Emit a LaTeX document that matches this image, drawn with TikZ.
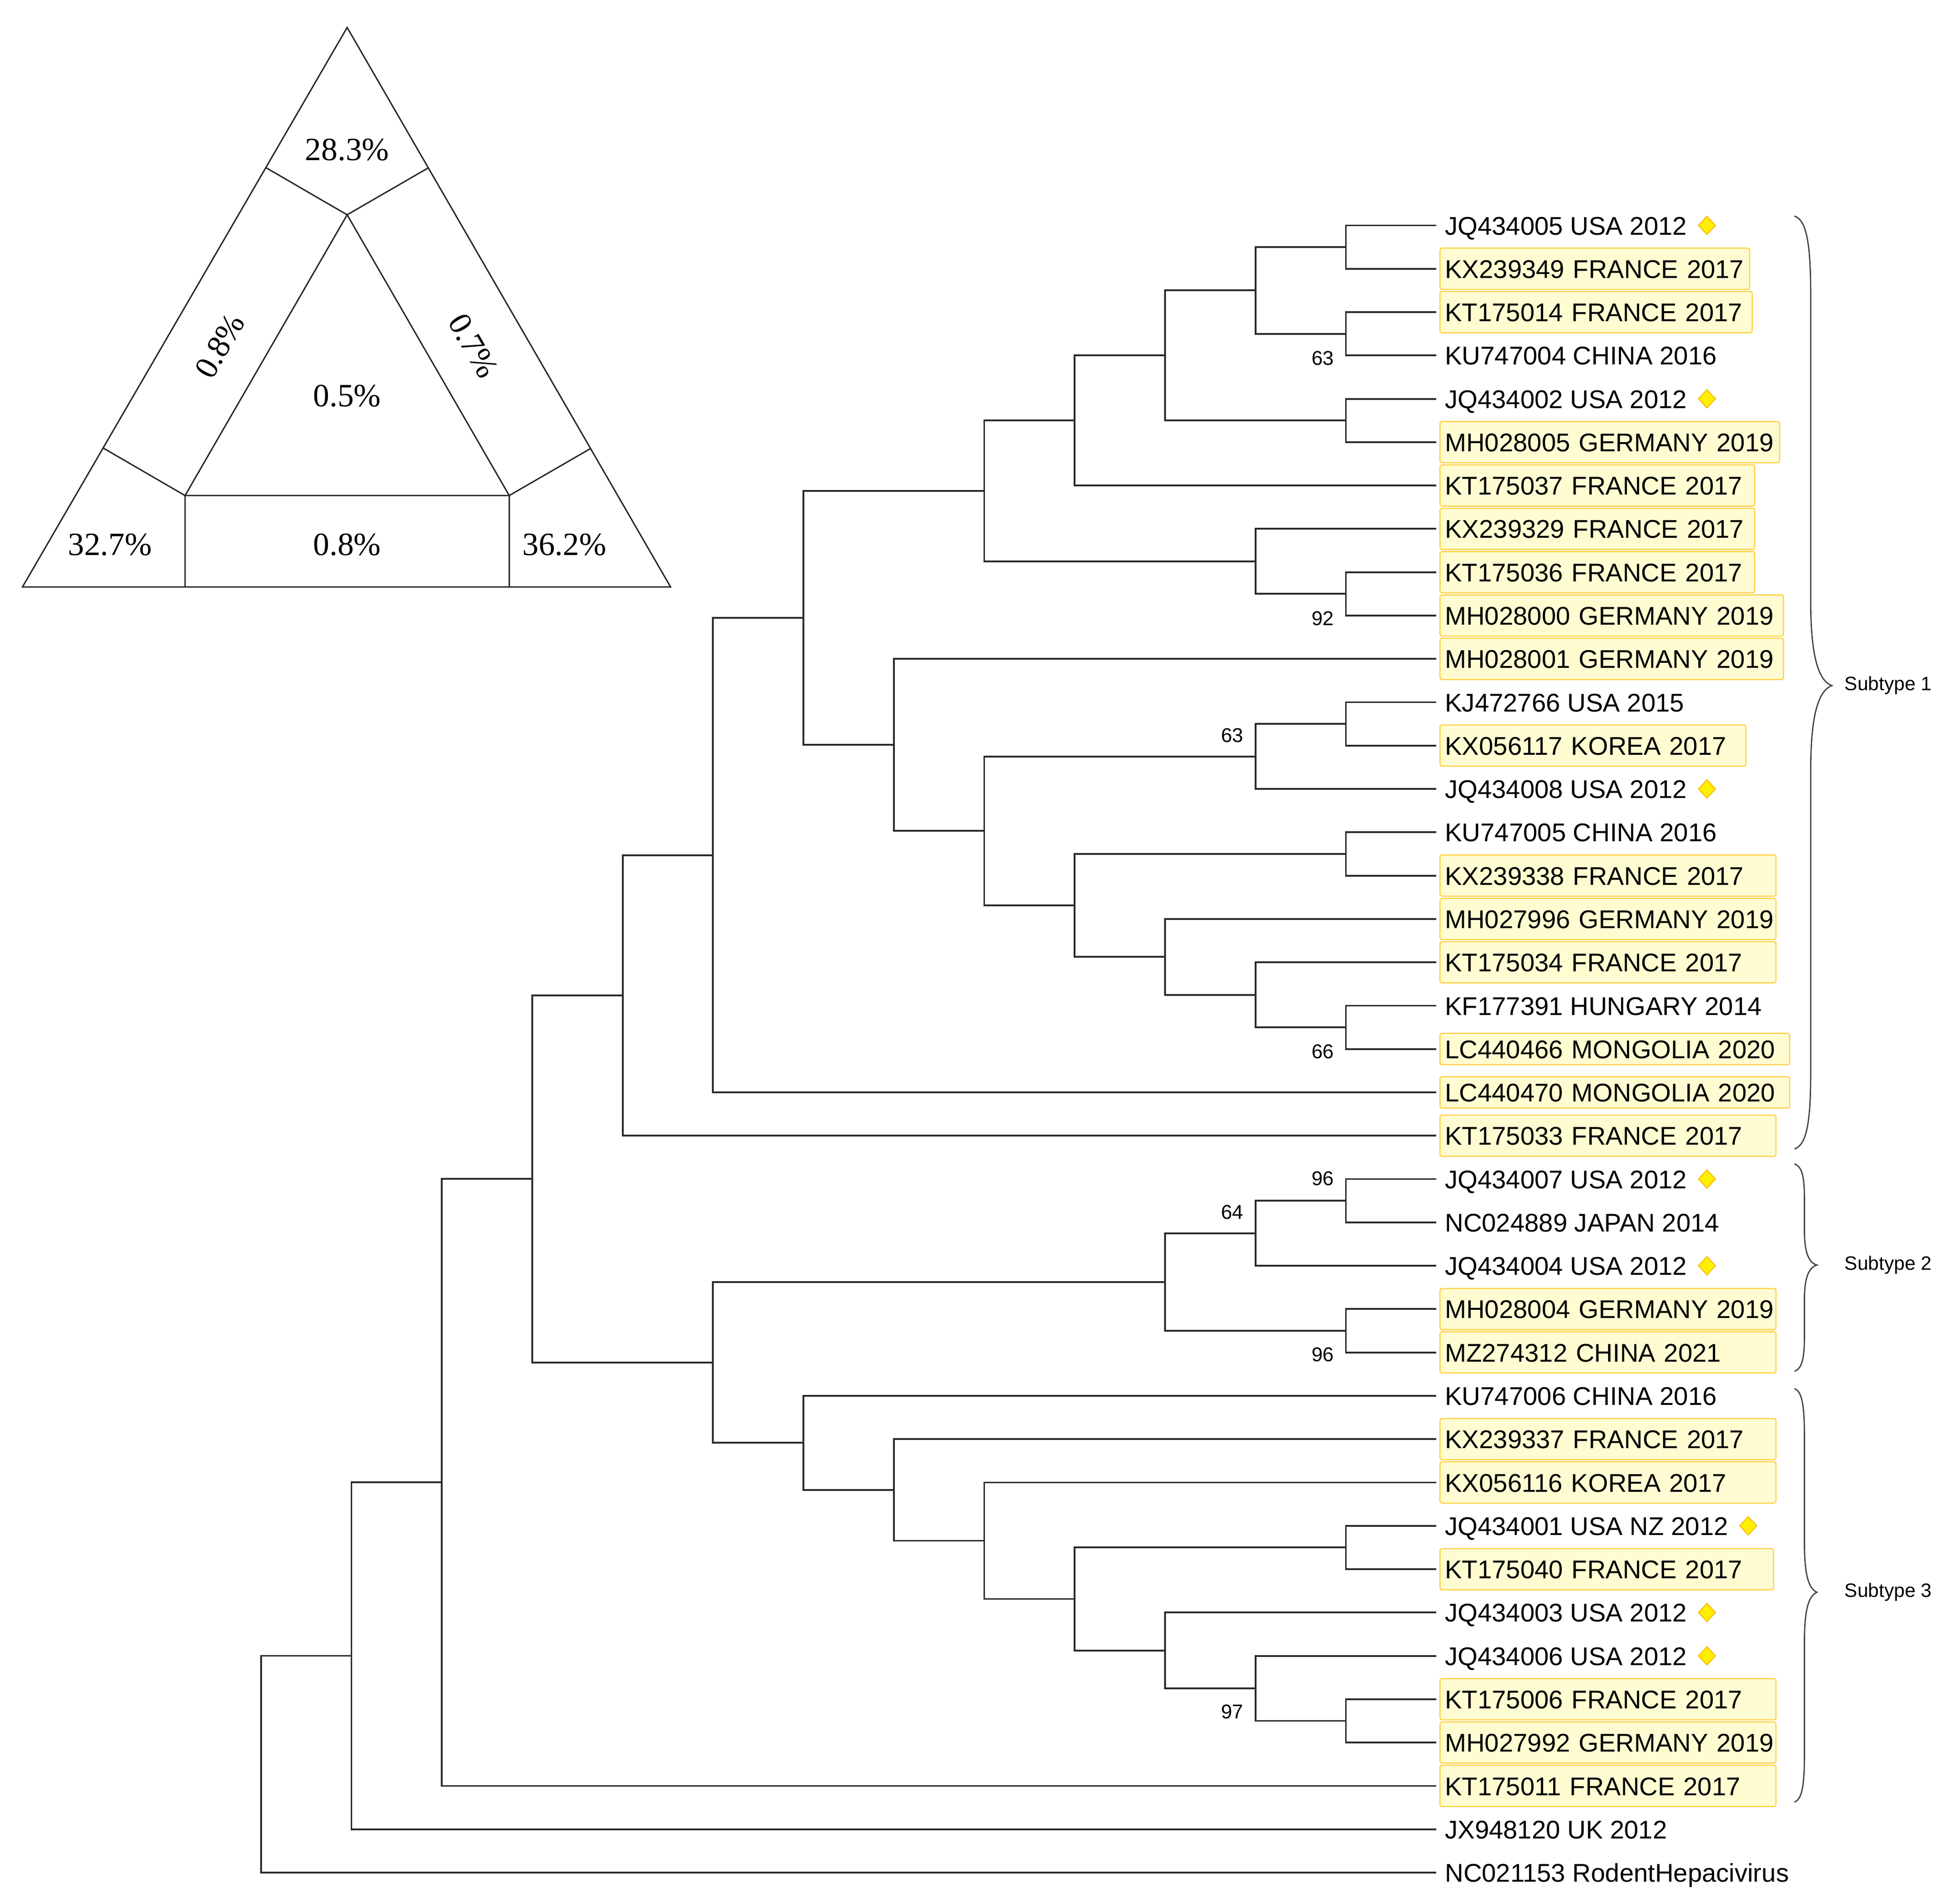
\documentclass[tikz,border=0pt]{standalone}
\usepackage{fontspec}
\setmainfont{Liberation Sans}
\newfontfamily\serifface{Liberation Serif}
\usetikzlibrary{shapes.geometric,calc}
\definecolor{hlfill}{HTML}{FFFCD2}
\definecolor{hldraw}{HTML}{FFD045}
\definecolor{dmfill}{HTML}{FFEE00}
\definecolor{dmdraw}{HTML}{F8BC10}
\definecolor{treeline}{HTML}{2A2A2A}
\hyphenpenalty=10000
\exhyphenpenalty=10000
\begin{document}
\begin{tikzpicture}[x=1pt,y=-1pt,
  tri/.style={line width=1.1pt, black!85},
  pct/.style={font=\serifface\fontsize{26}{28}\selectfont, inner sep=0pt},
  branch/.style={line width=1.4pt, treeline},
  leaf/.style={anchor=west, outer xsep=3pt, outer ysep=0pt, inner xsep=4pt, inner ysep=0pt,
     font=\fontsize{20.5}{24}\selectfont, text height=15pt, text depth=0pt, minimum height=33pt},
  hl/.style={leaf, fill=hlfill, draw=hldraw, line width=0.9pt, rounded corners=1.5pt, text width=#1},
  low/.style={minimum height=25pt},
  dia/.style={diamond, fill=dmfill, draw=dmdraw, line width=0.8pt, minimum width=14pt, minimum height=15pt, inner sep=0pt},
  bs/.style={font=\fontsize{16}{18}\selectfont, inner sep=0pt, text height=11.5pt, text depth=0pt},
  bracel/.style={line width=1pt, black!75},
  sub/.style={anchor=west, font=\fontsize{15.5}{18}\selectfont, inner sep=0pt}
]
\useasboundingbox (0,0) rectangle (1568,1524.3);

% ---------------- ternary triangle ----------------
\coordinate (T) at (278,22);
\coordinate (BL) at (18,470);
\coordinate (BR) at (537,470);
\coordinate (iT) at (278,172);
\coordinate (iL) at (148.2,396.8);
\coordinate (iR) at (407.8,396.8);
\coordinate (fTL) at ($(T)!(iT)!(BL)$);
\coordinate (fTR) at ($(T)!(iT)!(BR)$);
\coordinate (fLL) at ($(BL)!(iL)!(T)$);
\coordinate (fLB) at ($(BL)!(iL)!(BR)$);
\coordinate (fRR) at ($(BR)!(iR)!(T)$);
\coordinate (fRB) at ($(BR)!(iR)!(BL)$);
\draw[tri] (T) -- (BL) -- (BR) -- cycle;
\draw[tri] (iT) -- (iL) -- (iR) -- cycle;
\draw[tri] (iT) -- (fTL) (iT) -- (fTR);
\draw[tri] (iL) -- (fLL) (iL) -- (fLB);
\draw[tri] (iR) -- (fRR) (iR) -- (fRB);
\node[pct] (pA) at (278,120) {28.3\%};
\node[pct] (pB) at (278,317) {0.5\%};
\node[pct] (pC) at (88,436) {32.7\%};
\node[pct] (pD) at (278,436) {0.8\%};
\node[pct] (pE) at (452,436) {36.2\%};
\node[pct, rotate=60] (pF) at (176,277) {0.8\%};
\node[pct, rotate=-60] (pG) at (379,277) {0.7\%};

% ---------------- tree ----------------
\begin{scope}[shift={(209pt,-180.5pt)}, x=72.4pt, y=-34.71pt]
\node[leaf] (l1) at (13,0) {JQ434005 USA 2012};
\node[hl=240pt] (l2) at (13,1) {KX239349~FRANCE~2017};
\node[hl=242pt] (l3) at (13,2) {KT175014~FRANCE~2017};
\node[leaf] (l4) at (13,3) {KU747004 CHINA 2016};
\node[leaf] (l5) at (13,4) {JQ434002 USA 2012};
\node[hl=264pt] (l6) at (13,5) {MH028005~GERMANY~2019};
\node[hl=244pt] (l7) at (13,6) {KT175037~FRANCE~2017};
\node[hl=244pt] (l8) at (13,7) {KX239329~FRANCE~2017};
\node[hl=244pt] (l9) at (13,8) {KT175036~FRANCE~2017};
\node[hl=267pt] (l10) at (13,9) {MH028000~GERMANY~2019};
\node[hl=267pt] (l11) at (13,10) {MH028001~GERMANY~2019};
\node[leaf] (l12) at (13,11) {KJ472766 USA 2015};
\node[hl=237pt] (l13) at (13,12) {KX056117~KOREA~2017};
\node[leaf] (l14) at (13,13) {JQ434008 USA 2012};
\node[leaf] (l15) at (13,14) {KU747005 CHINA 2016};
\node[hl=261pt] (l16) at (13,15) {KX239338~FRANCE~2017};
\node[hl=261pt] (l17) at (13,16) {MH027996~GERMANY~2019};
\node[hl=261pt] (l18) at (13,17) {KT175034~FRANCE~2017};
\node[leaf] (l19) at (13,18) {KF177391 HUNGARY 2014};
\node[hl=272pt, low] (l20) at (13,19) {LC440466~MONGOLIA~2020};
\node[hl=272pt, low] (l21) at (13,20) {LC440470~MONGOLIA~2020};
\node[hl=261pt] (l22) at (13,21) {KT175033~FRANCE~2017};
\node[leaf] (l23) at (13,22) {JQ434007 USA 2012};
\node[leaf] (l24) at (13,23) {NC024889 JAPAN 2014};
\node[leaf] (l25) at (13,24) {JQ434004 USA 2012};
\node[hl=261pt] (l26) at (13,25) {MH028004~GERMANY~2019};
\node[hl=261pt] (l27) at (13,26) {MZ274312~CHINA~2021};
\node[leaf] (l28) at (13,27) {KU747006 CHINA 2016};
\node[hl=261pt] (l29) at (13,28) {KX239337~FRANCE~2017};
\node[hl=261pt] (l30) at (13,29) {KX056116~KOREA~2017};
\node[leaf] (l31) at (13,30) {JQ434001 USA NZ 2012};
\node[hl=259pt] (l32) at (13,31) {KT175040~FRANCE~2017};
\node[leaf] (l33) at (13,32) {JQ434003 USA 2012};
\node[leaf] (l34) at (13,33) {JQ434006 USA 2012};
\node[hl=261pt] (l35) at (13,34) {KT175006~FRANCE~2017};
\node[hl=261pt] (l36) at (13,35) {MH027992~GERMANY~2019};
\node[hl=261pt] (l37) at (13,36) {KT175011~FRANCE~2017};
\node[leaf] (l38) at (13,37) {JX948120 UK 2012};
\node[leaf] (l39) at (13,38) {NC021153 RodentHepacivirus};

% diamonds
\foreach \k in {1,5,14,23,25,31,33,34}
  \node[dia] (d\k) at ([xshift=9pt]l\k.east) {};

% internal nodes
\coordinate (n12) at (12,0.5);
\coordinate (n34) at (12,2.5);
\coordinate (n1_4) at (11,1.5);
\coordinate (n56) at (12,4.5);
\coordinate (n1_6) at (10,3);
\coordinate (n1_7) at (9,4.5);
\coordinate (n9_10) at (12,8.5);
\coordinate (n8_10) at (11,7.75);
\coordinate (n1_10) at (8,6.125);
\coordinate (n12_13) at (12,11.5);
\coordinate (n12_14) at (11,12.25);
\coordinate (n15_16) at (12,14.5);
\coordinate (n19_20) at (12,18.5);
\coordinate (n18_20) at (11,17.75);
\coordinate (n17_20) at (10,16.875);
\coordinate (n15_20) at (9,15.6875);
\coordinate (n12_20) at (8,13.96875);
\coordinate (n11_20) at (7,11.984375);
\coordinate (n1_20) at (6,9.0546875);
\coordinate (n1_21) at (5,14.52734375);
\coordinate (n1_22) at (4,17.763671875);
\coordinate (n23_24) at (12,22.5);
\coordinate (n23_25) at (11,23.25);
\coordinate (n26_27) at (12,25.5);
\coordinate (n23_27) at (10,24.375);
\coordinate (n35_36) at (12,34.5);
\coordinate (n34_36) at (11,33.75);
\coordinate (n33_36) at (10,32.875);
\coordinate (n31_32) at (12,30.5);
\coordinate (n31_36) at (9,31.6875);
\coordinate (n30_36) at (8,30.34375);
\coordinate (n29_36) at (7,29.171875);
\coordinate (n28_36) at (6,28.0859375);
\coordinate (n23_36) at (5,26.23046875);
\coordinate (n1_36) at (3,21.9970703125);
\coordinate (n1_37) at (2,28.99853515625);
\coordinate (n1_38) at (1,32.999267578125);
\coordinate (root) at (0,35.4996337890625);

% branches
\draw[branch] (l1.west) -| (n12) |- (l2.west);
\draw[branch] (l3.west) -| (n34) |- (l4.west);
\draw[branch] (n12) -| (n1_4) |- (n34);
\draw[branch] (l5.west) -| (n56) |- (l6.west);
\draw[branch] (n1_4) -| (n1_6) |- (n56);
\draw[branch] (n1_6) -| (n1_7) |- (l7.west);
\draw[branch] (l9.west) -| (n9_10) |- (l10.west);
\draw[branch] (l8.west) -| (n8_10) |- (n9_10);
\draw[branch] (n1_7) -| (n1_10) |- (n8_10);
\draw[branch] (l12.west) -| (n12_13) |- (l13.west);
\draw[branch] (n12_13) -| (n12_14) |- (l14.west);
\draw[branch] (l15.west) -| (n15_16) |- (l16.west);
\draw[branch] (l19.west) -| (n19_20) |- (l20.west);
\draw[branch] (l18.west) -| (n18_20) |- (n19_20);
\draw[branch] (l17.west) -| (n17_20) |- (n18_20);
\draw[branch] (n15_16) -| (n15_20) |- (n17_20);
\draw[branch] (n12_14) -| (n12_20) |- (n15_20);
\draw[branch] (l11.west) -| (n11_20) |- (n12_20);
\draw[branch] (n1_10) -| (n1_20) |- (n11_20);
\draw[branch] (n1_20) -| (n1_21) |- (l21.west);
\draw[branch] (n1_21) -| (n1_22) |- (l22.west);
\draw[branch] (l23.west) -| (n23_24) |- (l24.west);
\draw[branch] (n23_24) -| (n23_25) |- (l25.west);
\draw[branch] (l26.west) -| (n26_27) |- (l27.west);
\draw[branch] (n23_25) -| (n23_27) |- (n26_27);
\draw[branch] (l35.west) -| (n35_36) |- (l36.west);
\draw[branch] (l34.west) -| (n34_36) |- (n35_36);
\draw[branch] (l33.west) -| (n33_36) |- (n34_36);
\draw[branch] (l31.west) -| (n31_32) |- (l32.west);
\draw[branch] (n31_32) -| (n31_36) |- (n33_36);
\draw[branch] (l30.west) -| (n30_36) |- (n31_36);
\draw[branch] (l29.west) -| (n29_36) |- (n30_36);
\draw[branch] (l28.west) -| (n28_36) |- (n29_36);
\draw[branch] (n23_27) -| (n23_36) |- (n28_36);
\draw[branch] (n1_22) -| (n1_36) |- (n23_36);
\draw[branch] (n1_36) -| (n1_37) |- (l37.west);
\draw[branch] (n1_37) -| (n1_38) |- (l38.west);
\draw[branch] (n1_38) -| (root) |- (l39.west);

% bootstrap values
\node[bs] (b1) at ([shift={(-18.5pt,-19.5pt)}]n34) {63};
\node[bs] (b2) at ([shift={(-18.5pt,-19.5pt)}]n9_10) {92};
\node[bs] (b3) at ([shift={(-18.5pt,17pt)}]n12_14) {63};
\node[bs] (b4) at ([shift={(-18.5pt,-19pt)}]n19_20) {66};
\node[bs] (b5) at ([shift={(-18.5pt,18pt)}]n23_24) {96};
\node[bs] (b6) at ([shift={(-18.5pt,17pt)}]n23_25) {64};
\node[bs] (b7) at ([shift={(-18.5pt,-19pt)}]n26_27) {96};
\node[bs] (b8) at ([shift={(-18.5pt,-18.5pt)}]n34_36) {97};
\end{scope}

% ---------------- subtype braces ----------------
\draw[bracel] (1437,173) .. controls (1446,176) and (1450,192) .. (1450,235)
  -- (1450,480) .. controls (1450,525) and (1456,545) .. (1467,549)
  .. controls (1456,553) and (1450,573) .. (1450,618)
  -- (1450,860) .. controls (1450,902) and (1446,917) .. (1437,920);
\node[sub] (s1) at (1477,549) {Subtype 1};
\draw[bracel] (1437,932) .. controls (1443,934) and (1445,942) .. (1445,960)
  -- (1445,985) .. controls (1445,1002) and (1448,1011) .. (1455,1013)
  .. controls (1448,1015) and (1445,1024) .. (1445,1041)
  -- (1445,1070) .. controls (1445,1088) and (1443,1096) .. (1437,1098);
\node[sub] (s2) at (1477,1013) {Subtype 2};
\draw[bracel] (1437,1112) .. controls (1443,1114) and (1445,1125) .. (1445,1150)
  -- (1445,1235) .. controls (1445,1260) and (1448,1272) .. (1455,1275)
  .. controls (1448,1278) and (1445,1290) .. (1445,1315)
  -- (1445,1405) .. controls (1445,1430) and (1443,1441) .. (1437,1443);
\node[sub] (s3) at (1477,1275) {Subtype 3};
\end{tikzpicture}
\end{document}
